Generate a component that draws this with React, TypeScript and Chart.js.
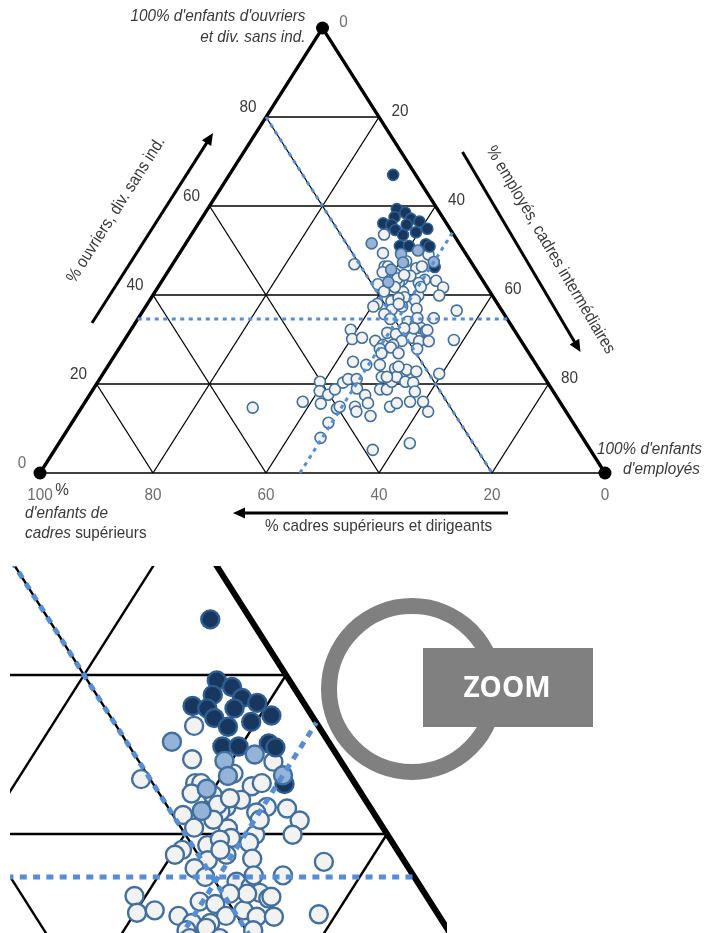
import React, { useEffect, useRef } from "react";
import { Chart, registerables } from "chart.js";

Chart.register(...registerables);

// ---------------- DATA ----------------
// Ternary grid / tick values (%)
const gridTicks = [20, 40, 60, 80];
const ouvriersTicks = [0, 20, 40, 60, 80]; // left axis
const employesTicks = [0, 20, 40, 60, 80]; // right axis
const cadresTicks = [100, 80, 60, 40, 20, 0]; // bottom axis

// Each point: [% cadres supérieurs et dirigeants, % ouvriers/div. sans ind.]
// % employés/cadres intermédiaires = 100 - both
const darkPoints: [number, number][] = [
  [4.0, 67.0], [7.2, 59.3], [6.1, 58.5], [8.5, 57.5], [5.8, 57.1], [4.6, 56.5],
  [11.2, 56.1], [9.9, 55.8], [7.2, 55.8], [9.8, 54.6], [6.4, 54.1], [4.0, 54.9],
  [9.0, 53.5], [10.8, 51.0], [9.2, 51.0], [6.0, 51.4], [5.6, 50.9], [7.0, 46.3],
];

const lightPoints: [number, number][] = [
  [15.5, 51.6], [11.5, 49.2], [8.1, 50.0], [12.1, 47.3], [6.6, 47.4], [15.0, 45.7], [16.9, 42.9],
];

const openPoints: [number, number][] = [
  [12.3, 53.6], [14.6, 49.4], [6.7, 49.1], [20.9, 46.9], [11.4, 47.6], [15.8, 46.4],
  [15.2, 46.4], [16.8, 45.1], [14.8, 44.9], [10.4, 46.0], [9.2, 46.4], [12.3, 44.3],
  [10.2, 43.4], [14.2, 43.4], [15.1, 42.8], [11.6, 42.7], [8.3, 43.2], [7.8, 41.7],
  [19.0, 42.4], [18.7, 40.8], [15.4, 40.7], [15.7, 39.5], [13.1, 39.9], [9.4, 39.9],
  [14.2, 38.9], [18.5, 38.6], [21.3, 38.0], [22.3, 37.4], [19.4, 36.7], [17.2, 37.4],
  [14.9, 36.9], [8.0, 36.5], [21.2, 35.7], [20.7, 34.6], [12.9, 34.8], [17.9, 34.0],
  [16.8, 33.4], [16.3, 32.6], [15.8, 31.9], [28.9, 32.2], [29.7, 30.1], [27.8, 30.4],
  [22.8, 31.5], [21.4, 31.2], [25.8, 29.7], [21.1, 29.7], [19.0, 30.4], [18.1, 29.6],
  [16.4, 29.6], [11.8, 29.9], [24.9, 28.8], [23.1, 28.8], [14.9, 43.7], [13.3, 44.5],
  [16.3, 41.8], [11.7, 41.8], [16.9, 39.3], [17.5, 38.0], [15.8, 34.8], [15.4, 32.1],
  [17.6, 32.5], [19.3, 32.5], [25.9, 27.9], [23.8, 28.2], [19.3, 27.9],
  [55.0, 14.7], [45.5, 16.0], [40.2, 20.5], [41.3, 18.4], [42.5, 15.6], [40.2, 17.6],
  [43.3, 11.3], [46.4, 7.9], [38.4, 18.8], [36.2, 20.3], [40.2, 14.5], [39.5, 14.9],
  [34.9, 21.1], [33.4, 21.1], [34.4, 19.0], [36.8, 14.9], [37.1, 13.8], [33.7, 17.5],
  [34.1, 15.7], [35.1, 12.8], [30.1, 24.3], [32.1, 25.0], [27.7, 24.3], [28.7, 21.6],
  [30.4, 18.8], [29.2, 18.8], [27.5, 20.5], [25.4, 23.5], [26.1, 21.6], [23.5, 23.2],
  [25.1, 20.5], [23.8, 20.3], [24.5, 18.3], [22.0, 22.8], [26.5, 16.0], [30.6, 14.9],
  [29.0, 15.7], [24.2, 16.0], [24.4, 13.8], [18.2, 22.3], [31.2, 6.7], [38.5, 5.2],
  [26.1, 26.9], [23.1, 26.9], [27.8, 21.6], [24.6, 23.9],
];

// Mean shares (dotted lines)
const meanCadres = 20;
const meanOuvriers = 34.6;
const meanEmployes = 46;

// ---------------- HELPERS ----------------
// ternary (cadres, ouvriers) -> cartesian data space (employés on x to the right, ouvriers up)
const toXY = (c: number, o: number) => ({ x: 100 - c - o / 2, y: o });

type Style = {
  grid: number; edge: number; base: number; mean: number; dash: number[];
  r: number; bw: number; vertices: boolean;
};

const BLUE = "#558ed5";

function seg(a: { x: number; y: number }, b: { x: number; y: number }, color: string, width: number, order: number, dash: number[] = []) {
  return {
    data: [a, b], showLine: true, borderColor: color, borderWidth: width,
    pointRadius: 0, pointHoverRadius: 0, borderDash: dash, borderCapStyle: "butt",
    order, fill: false,
  };
}

function buildDatasets(s: Style) {
  const ds: any[] = [];
  gridTicks.forEach((t) => {
    ds.push(seg(toXY(100 - t, t), toXY(0, t), "#000", s.grid, 100));
    ds.push(seg(toXY(t, 100 - t), toXY(t, 0), "#000", s.grid, 100));
    ds.push(seg(toXY(100 - t, 0), toXY(0, 100 - t), "#000", s.grid, 100));
  });
  ds.push(seg(toXY(100, 0), toXY(0, 0), "#000", s.base, 95));
  ds.push({
    data: [toXY(100, 0), toXY(0, 100), toXY(0, 0)], showLine: true, borderColor: "#000",
    borderWidth: s.edge, pointRadius: 0, borderJoinStyle: "miter", order: 90, fill: false,
  });
  const pts = (arr: [number, number][], bg: string, bc: string, order: number) => ({
    data: arr.map(([c, o]) => toXY(c, o)), showLine: false, pointRadius: s.r, pointHoverRadius: s.r,
    pointBorderWidth: s.bw, pointBackgroundColor: bg, pointBorderColor: bc, order,
  });
  ds.push(pts(openPoints, "#f2f2f2", "#41709f", 50));
  ds.push(pts(darkPoints, "#17375e", "#2e5d92", 40));
  ds.push(pts(lightPoints, "#95b3d7", "#41709f", 30));
  ds.push(seg(toXY(meanCadres, 100 - meanCadres), toXY(meanCadres, 0), BLUE, s.mean, 20, s.dash));
  ds.push(seg(toXY(100 - meanOuvriers, meanOuvriers), toXY(0, meanOuvriers), BLUE, s.mean, 20, s.dash));
  ds.push(seg(toXY(100 - meanEmployes, 0), toXY(0, 100 - meanEmployes), BLUE, s.mean, 20, s.dash));
  if (s.vertices) {
    ds.push({
      data: [toXY(100, 0), toXY(0, 100), toXY(0, 0)], showLine: false, pointRadius: 6.5,
      pointBackgroundColor: "#000", pointBorderWidth: 0, order: 10,
    });
  }
  return ds;
}

function drawText(ctx: CanvasRenderingContext2D, s: string, x: number, y: number, o: any = {}) {
  const size = o.size ?? 17;
  const hs = o.hs ?? 0.9;
  ctx.save();
  ctx.translate(x, y);
  if (o.rot) ctx.rotate(o.rot);
  ctx.scale(hs, 1);
  ctx.font = `${o.italic ? "italic " : ""}${o.bold ? "bold " : ""}${size}px ${o.family ?? '"Liberation Sans", Arial, sans-serif'}`;
  ctx.fillStyle = o.color ?? "#333";
  ctx.textAlign = o.align ?? "center";
  ctx.textBaseline = o.baseline ?? "middle";
  ctx.fillText(s, 0, 0);
  const w = ctx.measureText(s).width * hs;
  ctx.restore();
  return w;
}

function arrow(ctx: CanvasRenderingContext2D, x1: number, y1: number, x2: number, y2: number) {
  const a = Math.atan2(y2 - y1, x2 - x1);
  const L = 12, W = 5.5;
  ctx.save();
  ctx.strokeStyle = "#000";
  ctx.fillStyle = "#000";
  ctx.lineWidth = 3;
  ctx.beginPath();
  ctx.moveTo(x1, y1);
  ctx.lineTo(x2 - Math.cos(a) * L * 0.8, y2 - Math.sin(a) * L * 0.8);
  ctx.stroke();
  ctx.beginPath();
  ctx.moveTo(x2, y2);
  ctx.lineTo(x2 - Math.cos(a) * L - Math.sin(a) * W, y2 - Math.sin(a) * L + Math.cos(a) * W);
  ctx.lineTo(x2 - Math.cos(a) * L + Math.sin(a) * W, y2 - Math.sin(a) * L - Math.cos(a) * W);
  ctx.closePath();
  ctx.fill();
  ctx.restore();
}

const labelsPlugin = {
  id: "ternaryLabels",
  afterDraw(chart: any) {
    const ctx: CanvasRenderingContext2D = chart.ctx;
    const sx = chart.scales.x, sy = chart.scales.y;
    const P = (c: number, o: number) => {
      const p = toXY(c, o);
      return [sx.getPixelForValue(p.x), sy.getPixelForValue(p.y)];
    };
    const dark = "#3a3a3a", gray = "#6e6e6e";
    const [blx, bly] = P(100, 0);
    const [brx, bry] = P(0, 0);
    const [tx, ty] = P(0, 100);

    // left axis ticks (ouvriers)
    ouvriersTicks.forEach((v) => {
      const [x, y] = P(100 - v, v);
      drawText(ctx, String(v), x - 18, y - 10, { color: v === 0 ? gray : dark });
    });
    // right axis ticks (employés)
    employesTicks.forEach((v) => {
      const [x, y] = P(0, 100 - v);
      drawText(ctx, String(v), x + 21, y - 6, { color: v === 0 ? gray : dark });
    });
    // bottom axis ticks (cadres)
    cadresTicks.forEach((v) => {
      const [x, y] = P(v, 0);
      drawText(ctx, String(v), x, y + 22, { color: gray });
    });

    // vertex captions
    drawText(ctx, "100% d'enfants d'ouvriers", tx - 17, ty - 12, { italic: true, align: "right", color: dark });
    drawText(ctx, "et div. sans ind.", tx - 17, ty + 9, { italic: true, align: "right", color: dark });
    drawText(ctx, "100% d'enfants", brx + 97, bry - 24, { italic: true, align: "right", color: dark });
    drawText(ctx, "d'employés", brx + 95, bry - 4, { italic: true, align: "right", color: dark });
    drawText(ctx, "%", blx + 22, bly + 17, { color: dark });
    drawText(ctx, "d'enfants de", blx - 15, bly + 40, { italic: true, align: "left", color: dark });
    const w = drawText(ctx, "cadres", blx - 15, bly + 60, { italic: true, align: "left", color: dark });
    drawText(ctx, " supérieurs", blx - 15 + w, bly + 60, { align: "left", color: dark });

    // axis titles + arrows
    arrow(ctx, brx - 97, bly + 40, blx + 193, bly + 40);
    drawText(ctx, "% cadres supérieurs et dirigeants", (blx + brx) / 2 + 56, bly + 53, { color: dark });

    const leftAng = Math.atan2(ty - bly, tx - blx);
    arrow(ctx, blx + 52, bly - 150, blx + 173, ty + 105);
    drawText(ctx, "% ouvriers, div. sans ind.", blx + 76, bly - 263, { rot: leftAng, color: dark });

    arrow(ctx, tx + 140, ty + 124, tx + 258, ty + 324);
    drawText(ctx, "% employés, cadres intermédiaires", tx + 228, ty + 222, { rot: (59.5 * Math.PI) / 180, color: dark });
  },
};

const zoomIconPlugin = {
  id: "zoomIcon",
  afterDraw(chart: any) {
    const ctx: CanvasRenderingContext2D = chart.ctx;
    const ca = chart.chartArea;
    const cx = ca.right - 35, cy = ca.top + 123;
    ctx.save();
    ctx.strokeStyle = "#808080";
    ctx.lineWidth = 16;
    ctx.beginPath();
    ctx.arc(cx, cy, 83, 0, Math.PI * 2);
    ctx.stroke();
    ctx.fillStyle = "#808080";
    ctx.fillRect(cx + 11, cy - 41, 170, 79);
    ctx.restore();
    drawText(ctx, "ZOOM", cx + 95, cy + 8, {
      bold: true, size: 28, hs: 1, color: "#ffffff", baseline: "alphabetic",
      family: '"Open Sans", "Liberation Sans", Arial, sans-serif',
    });
  },
};

// ---------------- LAYOUT ----------------
const TRI = { left: 40, right: 605, base: 473, apex: 28 };
const MAIN_W = 714, MAIN_H = 555;
const pxPerX = (TRI.right - TRI.left) / 100;
const pxPerY = (TRI.base - TRI.apex) / 100;
const mainX = [-TRI.left / pxPerX, (MAIN_W - TRI.left) / pxPerX];
const mainY = [(TRI.base - MAIN_H) / pxPerY, TRI.base / pxPerY];

const ZOOM_H = 933 - MAIN_H;
const zoomX = [42.67, 85.94];
const zoomY = [27.55, 73.71];
const zoomPad = { left: 10, top: 11, right: MAIN_W - 447, bottom: 0 };

const mainStyle: Style = { grid: 1.3, edge: 3.3, base: 1.7, mean: 3, dash: [4, 4.5], r: 5.5, bw: 1.6, vertices: true };
const zoomStyle: Style = { grid: 2.4, edge: 6, base: 2.6, mean: 5, dash: [7, 6.3], r: 9, bw: 2.4, vertices: false };

function TernaryCanvas(props: {
  width: number; height: number; top: number; xr: number[]; yr: number[];
  padding: any; style: Style; plugin: any;
}) {
  const ref = useRef<HTMLCanvasElement | null>(null);
  useEffect(() => {
    if (!ref.current) return;
    const chart = new Chart(ref.current, {
      type: "scatter",
      data: { datasets: buildDatasets(props.style) },
      options: {
        responsive: false,
        animation: false,
        devicePixelRatio: 1,
        events: [],
        layout: { padding: props.padding, autoPadding: false },
        plugins: { legend: { display: false }, tooltip: { enabled: false } },
        scales: {
          x: { type: "linear", min: props.xr[0], max: props.xr[1], display: false },
          y: { type: "linear", min: props.yr[0], max: props.yr[1], display: false },
        },
      } as any,
      plugins: [props.plugin],
    } as any);
    return () => chart.destroy();
  }, []);
  return (
    <canvas
      ref={ref}
      width={props.width}
      height={props.height}
      style={{ position: "absolute", left: 0, top: props.top, width: props.width, height: props.height }}
    />
  );
}

export default function App() {
  return (
    <div style={{ position: "absolute", left: 0, top: 0, width: MAIN_W, height: 933, background: "#fff", overflow: "hidden" }}>
      <TernaryCanvas width={MAIN_W} height={MAIN_H} top={0} xr={mainX} yr={mainY} padding={0} style={mainStyle} plugin={labelsPlugin} />
      <TernaryCanvas width={MAIN_W} height={ZOOM_H} top={MAIN_H} xr={zoomX} yr={zoomY} padding={zoomPad} style={zoomStyle} plugin={zoomIconPlugin} />
    </div>
  );
}
